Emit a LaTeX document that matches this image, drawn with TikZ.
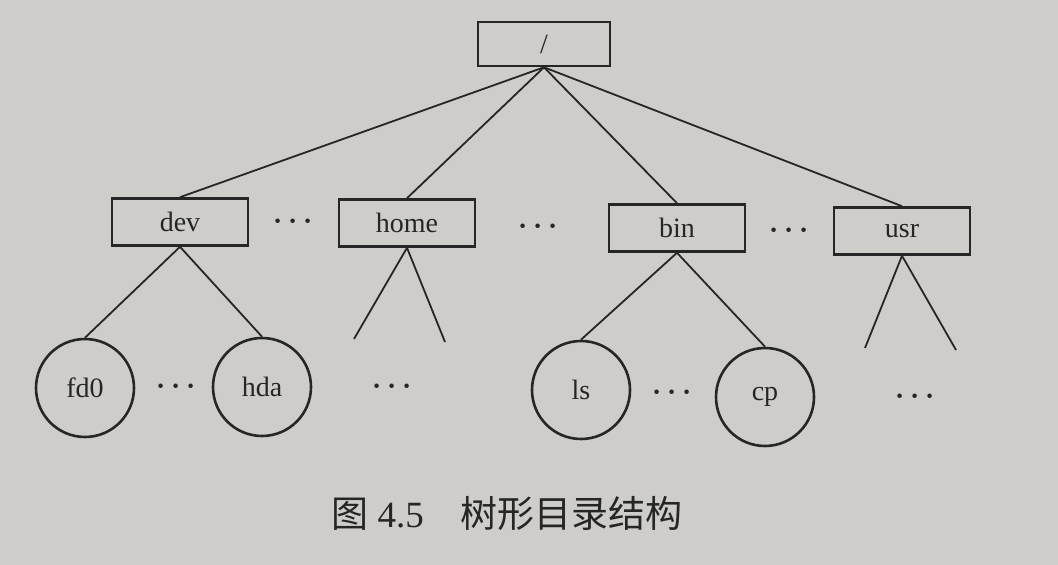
\documentclass[tikz,border=0pt]{standalone}
\usepackage{fontspec}
\setmainfont{Liberation Serif}
\newfontfamily\cjk{Noto Sans CJK SC}
\usepackage{tikz}
\usetikzlibrary{positioning}
\usepackage{xcolor}
\definecolor{paperGray}{RGB}{206,205,201}
\definecolor{inkGray}{RGB}{38,38,38}

\begin{document}
\begin{tikzpicture}[
  x=0.5pt, y=-0.5pt,
  dirbox/.style={rectangle, draw=inkGray, line width=1.3pt,
                 minimum width=68pt, minimum height=23.5pt,
                 font=\fontsize{14}{16}\selectfont, text=inkGray},
  filenode/.style={circle, draw=inkGray, line width=1.3pt,
                   minimum size=49pt, inner sep=0pt,
                   font=\fontsize{14}{16}\selectfont, text=inkGray},
  more/.style={inner sep=0pt, text=inkGray,
               font=\fontsize{15}{17}\selectfont\boldmath},
  edge/.style={inkGray, line width=0.9pt}
]
  \fill[paperGray] (0,0) rectangle (1058,565);
  % directories
  \node[dirbox, minimum width=66pt, minimum height=22pt] (root) at (544,44) {/};
  \node[dirbox] (dev)  at (180,222) {dev};
  \node[dirbox] (home) at (407,223) {home};
  \node[dirbox] (bin)  at (677,228) {bin};
  \node[dirbox] (usr)  at (902,231) {usr};
  % files
  \node[filenode] (fd0) at (85,388)  {fd0};
  \node[filenode] (hda) at (262,387) {hda};
  \node[filenode] (ls)  at (581,390) {ls};
  \node[filenode] (cp)  at (765,397) {cp};
  % open branches
  \coordinate (homeL) at (354,339);
  \coordinate (homeR) at (445,342);
  \coordinate (usrL)  at (865,348);
  \coordinate (usrR)  at (956,350);
  % omitted entries
  \node[more] (m1) at (293,222) {$\cdots$};
  \node[more] (m2) at (538,227) {$\cdots$};
  \node[more] (m3) at (789,231) {$\cdots$};
  \node[more] (m4) at (176,387) {$\cdots$};
  \node[more] (m5) at (392,387) {$\cdots$};
  \node[more] (m6) at (672,393) {$\cdots$};
  \node[more] (m7) at (915,397) {$\cdots$};
  \foreach \a/\b in {root/dev,root/home,root/bin,root/usr,
                     dev/fd0,dev/hda,bin/ls,bin/cp}
    \draw[edge] (\a.south) -- (\b.north);
  \foreach \a/\b in {home/homeL,home/homeR,usr/usrL,usr/usrR}
    \draw[edge] (\a.south) -- (\b);
  % caption
  \node[text=inkGray, font=\fontsize{18.5}{21}\selectfont] (cap) at (507,514)
    {{\cjk 图} 4.5\quad{\cjk 树形目录结构}};
\end{tikzpicture}
\end{document}
